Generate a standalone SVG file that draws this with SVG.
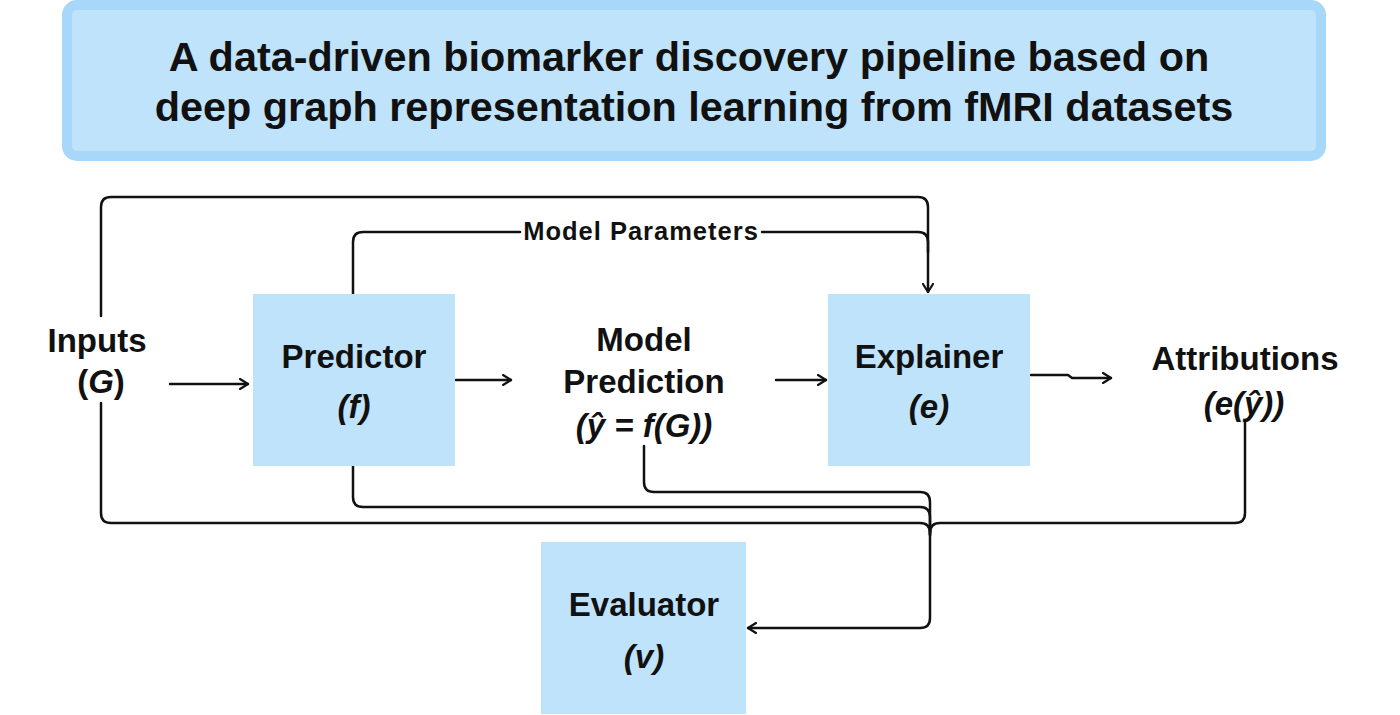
<svg xmlns="http://www.w3.org/2000/svg" width="1400" height="715" viewBox="0 0 1400 715">
<defs>
<style>
.t{font-family:"Liberation Sans",Arial,Helvetica,sans-serif;font-weight:bold;fill:#111;text-anchor:middle}
.lbl{font-size:33px}
.it{font-style:italic}
.node{fill:#bfe3fb}
.c{fill:none;stroke:#111;stroke-width:2.5;stroke-linejoin:round;stroke-linecap:round}
</style>
<marker id="ah" viewBox="0 0 10 12" refX="9" refY="6" markerWidth="10" markerHeight="12" markerUnits="userSpaceOnUse" orient="auto">
<path d="M1,1 L9,6 L1,11" fill="none" stroke="#111" stroke-width="2.2" stroke-linecap="round" stroke-linejoin="round"/>
</marker>
</defs>
<rect width="1400" height="715" fill="#fff"/>
<g id="title">
<rect x="67" y="5" width="1254" height="151" rx="10" fill="#bfe3fb" stroke="#a8d8f9" stroke-width="10"/>
<text class="t" x="689" y="71" font-size="41.4">A data-driven biomarker discovery pipeline based on</text>
<text class="t" x="694" y="121" font-size="41.4">deep graph representation learning from fMRI datasets</text>
</g>
<g id="connectors">
<path class="c" d="M170,384 H248" marker-end="url(#ah)"/>
<path class="c" d="M456,380 H511" marker-end="url(#ah)"/>
<path class="c" d="M776,380 H826" marker-end="url(#ah)"/>
<path class="c" d="M1031,375 H1068 L1072,378 H1111" marker-end="url(#ah)"/>
<path class="c" d="M101,316 V207 Q101,197 111,197 H918 Q928,197 928,207 V292" marker-end="url(#ah)"/>
<path class="c" d="M353,294 V242 Q353,232 363,232 H520"/>
<path class="c" d="M762,232 H918 Q928,232 928,242 V252"/>
<path class="c" d="M101,403 V513 Q101,523 111,523 H920 Q930,523 930,533 V618 Q930,628 920,628 H748" marker-end="url(#ah)"/>
<path class="c" d="M353,466 V497 Q353,507 363,507 H920 Q930,507 930,517 V535"/>
<path class="c" d="M644,446 V482 Q644,492 654,492 H920 Q930,492 930,502 V535"/>
<path class="c" d="M1245,422 V513 Q1245,523 1235,523 H940 Q930,523 930,533"/>
</g>
<g id="inputs">
<text class="t lbl" x="97" y="352">Inputs</text>
<text class="t lbl" x="101" y="393">(<tspan class="it">G</tspan>)</text>
</g>
<g id="predictor">
<rect class="node" x="253" y="294" width="202" height="172"/>
<text class="t lbl" x="354" y="368">Predictor</text>
<text class="t lbl it" x="354" y="418">(f)</text>
</g>
<g id="model-prediction">
<text class="t lbl" x="644" y="351">Model</text>
<text class="t lbl" x="644" y="393">Prediction</text>
<text class="t lbl it" x="644" y="437">(ŷ = f(G))</text>
</g>
<g id="model-parameters">
<text class="t" x="641" y="240" font-size="25.5" letter-spacing="1">Model Parameters</text>
</g>
<g id="explainer">
<rect class="node" x="828" y="294" width="202" height="172"/>
<text class="t lbl" x="929" y="368">Explainer</text>
<text class="t lbl it" x="929" y="418">(e)</text>
</g>
<g id="attributions">
<text class="t lbl" x="1245" y="370">Attributions</text>
<text class="t lbl it" x="1244" y="415">(e(ŷ))</text>
</g>
<g id="evaluator">
<rect class="node" x="541" y="542" width="205" height="172"/>
<text class="t lbl" x="644" y="616">Evaluator</text>
<text class="t lbl it" x="644" y="668">(v)</text>
</g>
</svg>
